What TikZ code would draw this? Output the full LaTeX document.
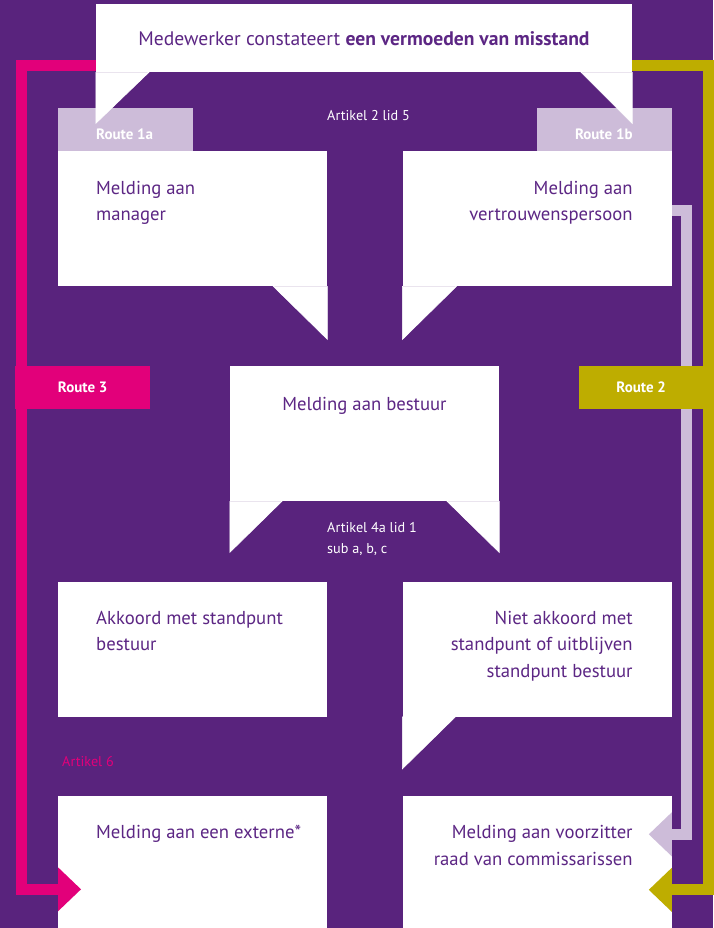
\documentclass[tikz,border=0pt]{standalone}
\usepackage{fontspec}
\setmainfont{PT Sans}
\usetikzlibrary{arrows.meta, positioning}
\definecolor{mwpurple}{RGB}{89,35,125}
\definecolor{mwtext}{RGB}{92,38,132}
\definecolor{mwpink}{RGB}{226,0,122}
\definecolor{mwolive}{RGB}{190,173,0}
\definecolor{mwlilac}{RGB}{205,188,217}

\begin{document}
\begin{tikzpicture}[x=1pt, y=-1pt,
    box/.style={fill=white, minimum width=269pt, minimum height=135pt,
                inner sep=0pt, anchor=north west},
    tag/.style={minimum width=135pt, minimum height=43pt, inner sep=0pt,
                text=white, font=\fontsize{15}{18}\selectfont\bfseries},
    tagtxt/.style={text=white, inner sep=0pt,
                   font=\fontsize{15}{18}\selectfont\bfseries},
    txt/.style={text=mwtext, inner sep=0pt, font=\fontsize{18.7}{26.5}\selectfont},
    art/.style={text=white, inner sep=0pt, align=left,
                font=\fontsize{14.2}{21}\selectfont},
    route/.style={line width=11pt,
                  -{Triangle[length=23pt, width=44pt, line width=0pt]}},
    tail/.style={fill=white, draw=white, line width=0.6pt}
  ]
  \useasboundingbox (0,0) rectangle (713,928);
  \fill[mwpurple] (0,0) rectangle (713,928);

  % boxes
  \node[box, minimum width=536pt, minimum height=68pt, anchor=north,
        text=mwtext, font=\fontsize{19.6}{24}\selectfont] (top) at (364,4)
    {Medewerker constateert \textbf{een vermoeden van misstand}};
  \node[box] (mgr) at (58,151) {};
  \node[box, right=75pt of mgr] (vp) {};
  \node[box, anchor=north] (best) at (364.5,366) {};
  \node[box, below=295pt of mgr] (akk) {};
  \node[box, right=75pt of akk] (niet) {};
  \node[box, minimum height=133pt, below=79pt of akk] (ext) {};
  \node[box, minimum height=133pt, right=75pt of ext] (rvc) {};

  % route 1a / 1b tags
  \node[tag, fill=mwlilac, anchor=south west] (r1a) at (mgr.north west) {};
  \node[tag, fill=mwlilac, anchor=south east] (r1b) at (vp.north east) {};
  \node[tagtxt, anchor=base west] at ([shift={(38,-11)}]r1a.south west) {Route 1a};
  \node[tagtxt, anchor=base east] at ([shift={(-39,-11)}]r1b.south east) {Route 1b};

  % speech bubble tails
  \filldraw[tail] (top.south west) -- ++(0,51) -- ++(53,-51) -- cycle;
  \filldraw[tail] (top.south east) -- ++(0,51) -- ++(-51,-51) -- cycle;
  \filldraw[tail] (mgr.south east) -- ++(0,53) -- ++(-54,-53) -- cycle;
  \filldraw[tail] (vp.south west) -- ++(0,53) -- ++(54,-53) -- cycle;
  \filldraw[tail] (best.south west) -- ++(0,51) -- ++(52,-51) -- cycle;
  \filldraw[tail] (best.south east) -- ++(0,51) -- ++(-52,-51) -- cycle;
  \filldraw[tail] (niet.south west) -- ++(0,52) -- ++(53,-52) -- cycle;

  % routes along the sides
  \coordinate (lane3) at (21.5,0);
  \coordinate (lane2) at (708,0);
  \coordinate (lane1b) at (686.5,0);
  \coordinate (end3) at ([shift={(23,93.5)}]ext.north west);
  \coordinate (end2) at ([shift={(-23,94)}]rvc.north east);
  \coordinate (end1b) at ([shift={(-23,38.5)}]rvc.north east);

  \draw[route, mwpink] ([yshift=6.5pt]top.south west) -| (lane3 |- end3) -- (end3);
  \draw[route, mwolive] ([yshift=6.5pt]top.south east) -| (lane2 |- end2) -- (end2);
  \draw[route, mwlilac] ([shift={(0,59.5)}]vp.north east) -| (lane1b |- end1b) -- (end1b);

  \node[tag, fill=mwpink, anchor=north west] (r3) at (15,366) {Route 3};
  \node[tag, fill=mwolive, minimum width=124pt, anchor=north west] (r2) at (579,366) {Route 2};

  % box texts (base = last line)
  \node[txt, align=left, anchor=base west] at ([shift={(38,69.5)}]mgr.north west)
    {Melding aan\\manager};
  \node[txt, align=right, anchor=base east] at ([shift={(-39,69.5)}]vp.north east)
    {Melding aan\\vertrouwenspersoon};
  \node[txt, anchor=base] at ([shift={(0,44)}]best.north) {Melding aan bestuur};
  \node[txt, align=left, anchor=base west] at ([shift={(38,69.5)}]akk.north west)
    {Akkoord met standpunt\\bestuur};
  \node[txt, align=right, anchor=base east] at ([shift={(-39,96)}]niet.north east)
    {Niet akkoord met\\standpunt of uitblijven\\standpunt bestuur};
  \node[txt, anchor=base west] at ([shift={(38,43)}]ext.north west)
    {Melding aan een externe*};
  \node[txt, align=right, anchor=base east] at ([shift={(-39,69.5)}]rvc.north east)
    {Melding aan voorzitter\\raad van commissarissen};

  % article references
  \node[art, anchor=base west] (art2) at (327,121) {Artikel 2 lid 5};
  \node[art, anchor=base west] (art4) at (327,553) {Artikel 4a lid 1\\sub a, b, c};
  \node[art, text=mwpink, anchor=base west] (art6) at (62,766) {Artikel 6};
\end{tikzpicture}
\end{document}
